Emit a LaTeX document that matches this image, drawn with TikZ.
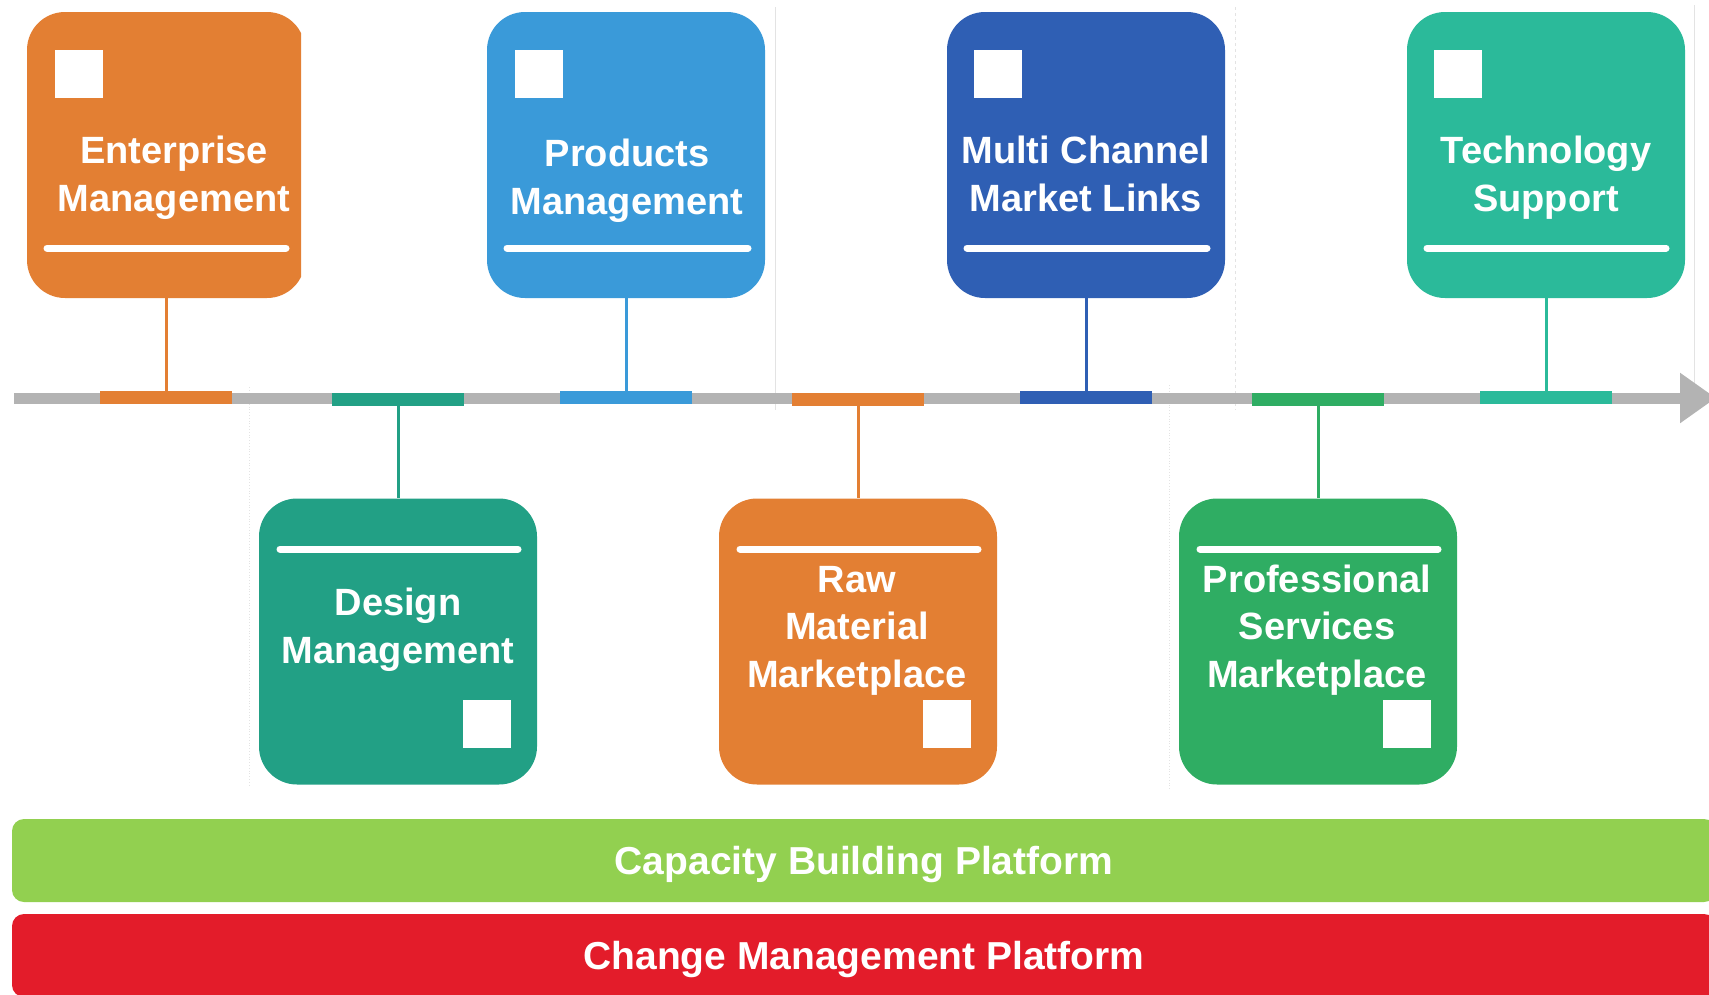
\documentclass[tikz,border=0pt]{standalone}
\usepackage{fontspec}
\setmainfont{Liberation Sans}
\usetikzlibrary{arrows.meta}

\definecolor{entorange}{HTML}{E37F33}
\definecolor{prodblue}{HTML}{3A9AD9}
\definecolor{chanblue}{HTML}{2F5FB4}
\definecolor{techteal}{HTML}{2BBA9A}
\definecolor{desteal}{HTML}{22A085}
\definecolor{profgreen}{HTML}{2FAD63}
\definecolor{capgreen}{HTML}{92D050}
\definecolor{chgred}{HTML}{E31C2A}
\definecolor{axisgray}{HTML}{B3B3B3}

\begin{document}
\begin{tikzpicture}[x=1pt,y=-1pt,
  card/.style={rounded corners=38pt,minimum width=278pt,minimum height=286pt,inner sep=0pt},
  tab/.style={minimum width=132pt,minimum height=13pt,inner sep=0pt},
  stem/.style={line width=3pt},
  icon/.style={fill=white,minimum size=48pt,inner sep=0pt},
  rule/.style={white,line width=7pt,line cap=round},
  title/.style={text=white,font=\bfseries\fontsize{38}{47.5}\selectfont,align=center,inner sep=0pt,anchor=base},
  band/.style={rounded corners=12pt,minimum width=1704pt,minimum height=83pt,inner sep=0pt,
    text height=28pt,text depth=0pt,text=white,font=\bfseries\fontsize{39}{47}\selectfont},
  guide/.style={gray!22,line width=0.8pt},
  axis/.style={axisgray,line width=11pt,-{Triangle[length=36pt,width=48pt]}}]
\clip (0,0) rectangle (1709,994);

% faint guides
\draw[guide,dotted] (249,387) -- (249,787);
\draw[guide] (775,7) -- (775,410);
\draw[guide,dotted] (1169,385) -- (1169,790);
\draw[guide,dashed] (1235,7) -- (1235,410);
\draw[guide] (1694,5) -- (1694,413);

% time line
\coordinate (t0) at (14,398);
\coordinate (t1) at (1716,398);
\draw[axis] (t0) -- (t1);

% upper cards
\begin{scope}
\clip (0,0) rectangle (301,400);
\node[card,fill=entorange] (ent) at (166,155) {};
\end{scope}
\node[card,fill=prodblue] (prod) at (626,155) {};
\node[card,fill=chanblue] (chan) at (1086,155) {};
\node[card,fill=techteal] (tech) at (1546,155) {};

% lower cards
\node[card,fill=desteal] (des) at (398,641.5) {};
\node[card,fill=entorange] (raw) at (858,641.5) {};
\node[card,fill=profgreen] (prof) at (1318,641.5) {};

% tabs on the line
\node[tab,fill=entorange] (entbar) at (166,397.5) {};
\node[tab,fill=desteal] (desbar) at (398,399.5) {};
\node[tab,fill=prodblue] (prodbar) at (626,397.5) {};
\node[tab,fill=entorange] (rawbar) at (858,399.5) {};
\node[tab,fill=chanblue] (chanbar) at (1086,397.5) {};
\node[tab,fill=profgreen] (profbar) at (1318,399.5) {};
\node[tab,fill=techteal] (techbar) at (1546,397.5) {};

\draw[stem,entorange] (ent.south) -- (entbar.north);
\draw[stem,prodblue] (prod.south) -- (prodbar.north);
\draw[stem,chanblue] (chan.south) -- (chanbar.north);
\draw[stem,techteal] (tech.south) -- (techbar.north);
\draw[stem,desteal] (desbar.south) -- (des.north);
\draw[stem,entorange] (rawbar.south) -- (raw.north);
\draw[stem,profgreen] (profbar.south) -- (prof.north);

% icons
\node[icon] (enticon) at (79,74) {};
\node[icon] (prodicon) at (539,74) {};
\node[icon] (chanicon) at (998,74) {};
\node[icon] (techicon) at (1458,74) {};
\node[icon] (desicon) at (487,724) {};
\node[icon] (rawicon) at (947,724) {};
\node[icon] (proficon) at (1407,724) {};

% white rules
\draw[rule] (47,248) -- (286,248);
\draw[rule] (507,248) -- (748,248);
\draw[rule] (967,248) -- (1207,248);
\draw[rule] (1427,248) -- (1666,248);
\draw[rule] (280,549) -- (518,549);
\draw[rule] (740,549) -- (978,549);
\draw[rule] (1200,549) -- (1438,549);

% titles (base = last line)
\node[title] (enttext) at (174,211) {Enterprise\\Management};
\node[title] (prodtext) at (627,214) {Products\\Management};
\node[title] (chantext) at (1086,211) {Multi Channel\\Market Links};
\node[title] (techtext) at (1546,211) {Technology\\Support};
\node[title] (destext) at (398,663) {Design\\Management};
\node[title] (rawtext) at (857,687) {Raw\\Material\\Marketplace};
\node[title] (proftext) at (1317,687) {Professional\\Services\\Marketplace};

% platforms
\node[band,fill=capgreen] (cap) at (864,860.5) {Capacity Building Platform};
\node[band,fill=chgred] (chg) at (864,955.5) {Change Management Platform};
\end{tikzpicture}
\end{document}
